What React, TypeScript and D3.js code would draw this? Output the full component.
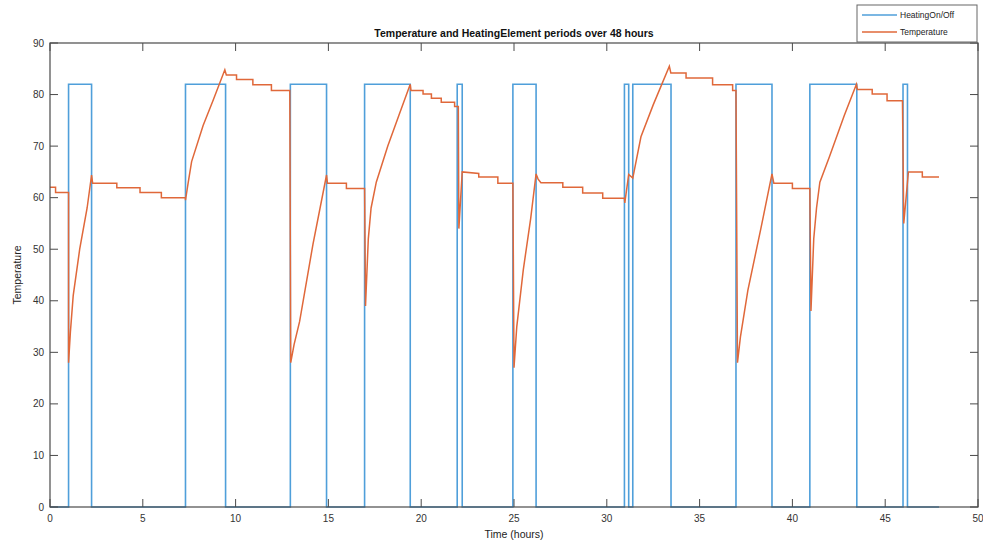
import React from "react";
import * as d3 from "d3";

const xTicks = [0, 5, 10, 15, 20, 25, 30, 35, 40, 45, 50];
const yTicks = [0, 10, 20, 30, 40, 50, 60, 70, 80, 90];

const heatTimes = [0, 1.0, 2.24, 7.3, 9.46, 12.95, 14.9, 16.95, 19.41, 21.94, 22.21, 24.94, 26.19, 30.95, 31.18, 31.4, 33.46, 36.96, 38.9, 40.94, 43.47, 45.96, 46.2, 47.9];
const heatValues = [0, 82, 0, 82, 0, 82, 0, 82, 0, 82, 0, 82, 0, 82, 0, 82, 0, 82, 0, 82, 0, 82, 0, 0];

const tempTimes = [
  0, 0.3, 0.3, 1.0, 1.0, 1.1, 1.25, 1.6, 2.0, 2.24, 2.3, 3.6, 3.6, 4.85, 4.85, 6.0, 6.0, 7.3, 7.3, 7.45, 7.63, 8.25, 8.8, 9.42,
  9.5, 10.05, 10.05, 10.93, 10.93, 11.93, 11.93, 12.92, 12.97, 13.15, 13.45, 14.17, 14.9, 14.95, 15.97, 15.97, 16.95,
  17.0, 17.15, 17.3, 17.58, 18.2, 18.8, 19.41, 19.45, 20.1, 20.1, 20.55, 20.55, 21.08, 21.08, 21.8, 21.8, 22.0,
  22.03, 22.21, 23.1, 23.1, 24.13, 24.13, 24.94, 25.0, 25.15, 25.5, 25.9, 26.19, 26.3, 26.45, 27.63, 27.63, 28.7, 28.7,
  29.78, 29.78, 30.95, 30.97, 31.18, 31.4, 31.84, 32.5, 33.37, 33.45, 34.27, 34.27, 35.7, 35.7, 36.78, 36.78, 36.96,
  37.04, 37.2, 37.6, 38.3, 38.9, 39.0, 40.0, 40.0, 40.94, 41.0, 41.15, 41.3, 41.48, 42.0, 42.8, 43.45, 43.5, 44.3, 44.3,
  45.1, 45.1, 45.93, 46.0, 46.25, 47.0, 47.0, 47.9,
];
const tempValues = [
  62, 62, 61, 61, 28, 34, 41, 50, 58, 64.4, 62.8, 62.8, 61.9, 61.9, 61, 61, 60, 60, 59.5, 63, 67, 74, 79, 84.8,
  83.8, 83.8, 82.9, 82.9, 81.9, 81.9, 80.8, 80.8, 28, 31.5, 36, 51, 64.4, 62.8, 62.8, 61.8, 61.8,
  39, 52, 58, 63, 70, 76, 82, 80.8, 80.8, 80.1, 80.1, 79.3, 79.3, 78.5, 78.5, 77.7, 77.7,
  54, 65, 64.7, 64, 64, 62.8, 62.8, 27, 35, 46, 56, 64.6, 63.6, 62.9, 62.9, 62, 62, 60.9,
  60.9, 59.9, 59.9, 59, 64.5, 63.8, 71.8, 78, 85.5, 84.2, 84.2, 83.2, 83.2, 81.9, 81.9, 80.8, 80.8,
  28, 33, 42, 54, 64.6, 62.8, 62.8, 61.8, 61.8, 38, 52, 58, 63, 68, 76, 82, 81, 81, 80.1,
  80.1, 78.8, 78.8, 55, 65, 65, 64, 64,
];

const W = 983;
const H = 547;
const left = 50, right = 978, top = 43, bottom = 507;
const FONT = "'Liberation Sans', Arial, Helvetica, sans-serif";
const BLUE = "#4f9fda";
const ORANGE = "#e0683a";
const AXIS = "#4a4a4a";

export default function App() {
  const x = d3.scaleLinear().domain([0, 50]).range([left, right]);
  const y = d3.scaleLinear().domain([0, 90]).range([bottom, top]);

  const heatData = heatTimes.map((t, i) => [t, heatValues[i]] as [number, number]);
  const tempData = tempTimes.map((t, i) => [t, tempValues[i]] as [number, number]);

  const heatLine = d3
    .line<[number, number]>()
    .x((d) => x(d[0]))
    .y((d) => y(d[1]))
    .curve(d3.curveStepAfter);
  const tempLine = d3
    .line<[number, number]>()
    .x((d) => x(d[0]))
    .y((d) => y(d[1]));

  const tl = 8;

  return (
    <svg width={W} height={H} style={{ position: "absolute", left: 0, top: 0, background: "#fff" }} fontFamily={FONT}>
      <rect x={0} y={0} width={W} height={H} fill="#fff" />
      <path d={heatLine(heatData) || ""} fill="none" stroke={BLUE} strokeWidth={1.6} />
      <path d={tempLine(tempData) || ""} fill="none" stroke={ORANGE} strokeWidth={1.5} />

      <rect x={left} y={top} width={right - left} height={bottom - top} fill="none" stroke={AXIS} strokeWidth={1.2} />

      {xTicks.map((t) => (
        <g key={"x" + t}>
          <line x1={x(t)} x2={x(t)} y1={bottom} y2={bottom - tl} stroke={AXIS} strokeWidth={1} />
          <line x1={x(t)} x2={x(t)} y1={top} y2={top + tl} stroke={AXIS} strokeWidth={1} />
          <text x={x(t)} y={bottom + 15} fontSize={10} textAnchor="middle" fill="#333">
            {t}
          </text>
        </g>
      ))}
      {yTicks.map((t) => (
        <g key={"y" + t}>
          <line x1={left} x2={left + tl} y1={y(t)} y2={y(t)} stroke={AXIS} strokeWidth={1} />
          <line x1={right} x2={right - tl} y1={y(t)} y2={y(t)} stroke={AXIS} strokeWidth={1} />
          <text x={left - 6} y={y(t) + 3.5} fontSize={10} textAnchor="end" fill="#333">
            {t}
          </text>
        </g>
      ))}

      <text x={(left + right) / 2} y={37} fontSize={10.5} fontWeight="bold" textAnchor="middle" fill="#111">
        Temperature and HeatingElement periods over 48 hours
      </text>
      <text x={(left + right) / 2} y={538} fontSize={10.5} textAnchor="middle" fill="#222">
        Time (hours)
      </text>
      <text transform={`translate(21,${(top + bottom) / 2}) rotate(-90)`} fontSize={10.5} textAnchor="middle" fill="#222">
        Temperature
      </text>

      <g>
        <rect x={857} y={5} width={120} height={37} fill="#fff" stroke="#666" strokeWidth={1} />
        <line x1={862} x2={897} y1={15} y2={15} stroke={BLUE} strokeWidth={1.6} />
        <text x={900} y={18} fontSize={8.5} fill="#222">HeatingOn/Off</text>
        <line x1={862} x2={897} y1={32} y2={32} stroke={ORANGE} strokeWidth={1.5} />
        <text x={900} y={35} fontSize={8.5} fill="#222">Temperature</text>
      </g>
    </svg>
  );
}
